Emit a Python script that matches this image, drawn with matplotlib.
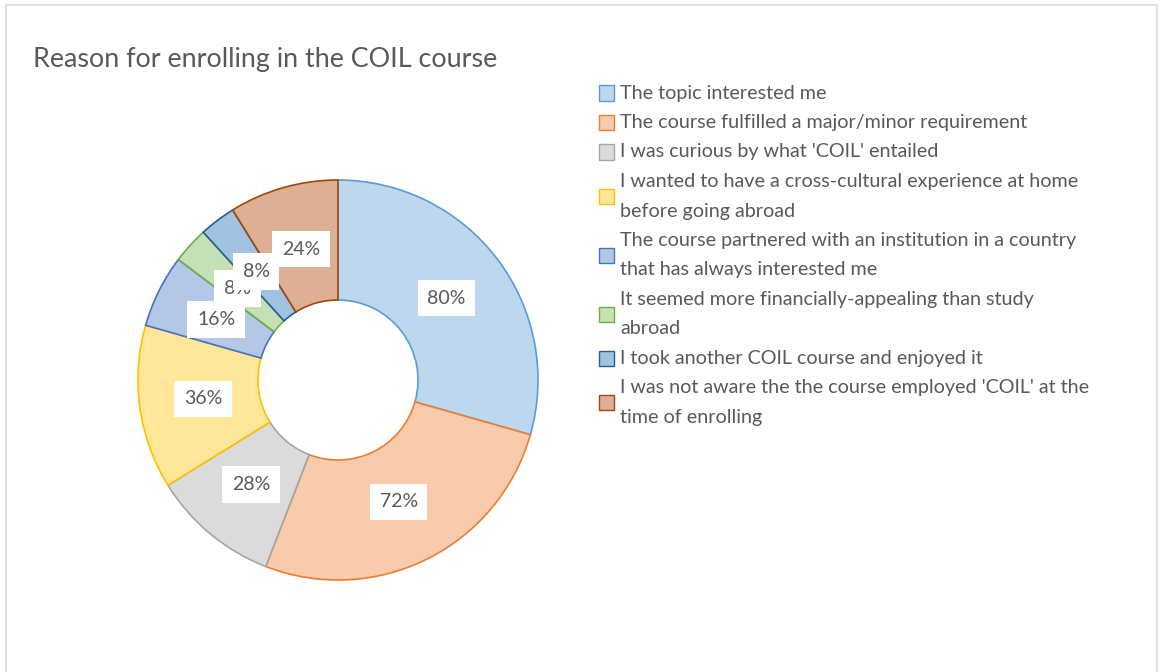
import matplotlib.pyplot as plt
from matplotlib.patches import Rectangle

# data
reasons = [
   "The topic interested me",
   "The course fulfilled a major/minor requirement",
   "I was curious by what 'COIL' entailed",
   "I wanted to have a cross-cultural experience at home\nbefore going abroad",
   "The course partnered with an institution in a country\nthat has always interested me",
   "It seemed more financially-appealing than study\nabroad",
   "I took another COIL course and enjoyed it",
   "I was not aware the the course employed 'COIL' at the\ntime of enrolling",
]
percents = [80, 72, 28, 36, 16, 8, 8, 24]
fills = ["#BDD7EE", "#F8CBAD", "#DBDBDB", "#FFE699", "#B4C7E7", "#C5E0B4", "#A2C2E1", "#DDB095"]
edges = ["#5B9BD5", "#ED7D31", "#A5A5A5", "#FFC000", "#4472C4", "#70AD47", "#255E91", "#9E480E"]

W, H = 1160, 672
txt_color = "#595959"
plt.rcParams['font.family'] = ['Lato', 'DejaVu Sans']

fig = plt.figure(figsize=(W / 100, H / 100), dpi=100)
fig.patch.set_facecolor("white")

# outer frame
fig.add_artist(Rectangle((6 / W, -0.01), (1157 - 6) / W, 1.01 - 5 / H, transform=fig.transFigure,
                         fill=False, edgecolor="#DADADA", linewidth=1.2))

fig.text(33 / W, 1 - 60 / H, "Reason for enrolling in the COIL course", fontsize=19.4,
         color=txt_color, va="center", ha="left")

# donut
cx, cy, r = 338, 380, 200
ax = fig.add_axes([(cx - r) / W, 1 - (cy + r) / H, 2 * r / W, 2 * r / H])
total = sum(percents)
wedges, _, autotexts = ax.pie(percents, colors=fills, startangle=90, counterclock=False,
                              autopct=lambda p: f"{p * total / 100:.0f}%", pctdistance=0.68,
                              wedgeprops=dict(width=0.6, linewidth=1.2))
for w, ec in zip(wedges, edges):
   w.set_edgecolor(ec)
for t in autotexts:
   t.set_fontsize(14)
   t.set_color(txt_color)
   t.set_bbox(dict(boxstyle="square,pad=0.5", facecolor="white", edgecolor="none"))
ax.set_xlim(-1, 1)
ax.set_ylim(-1, 1)
ax.set_aspect("equal")
ax.axis("off")

# legend
y = 93
step = 29.5
for label, fc, ec in zip(reasons, fills, edges):
   lines = label.split("\n")
   mid = y + step * (len(lines) - 1) / 2
   fig.add_artist(Rectangle((599 / W, 1 - (mid + 7.5) / H), 15 / W, 15 / H, transform=fig.transFigure,
                            facecolor=fc, edgecolor=ec, linewidth=1.0))
   for ln in lines:
      fig.text(620 / W, 1 - y / H, ln, fontsize=14.2, color=txt_color, va="center", ha="left")
      y += step

fig.savefig("out.png", dpi=100)
